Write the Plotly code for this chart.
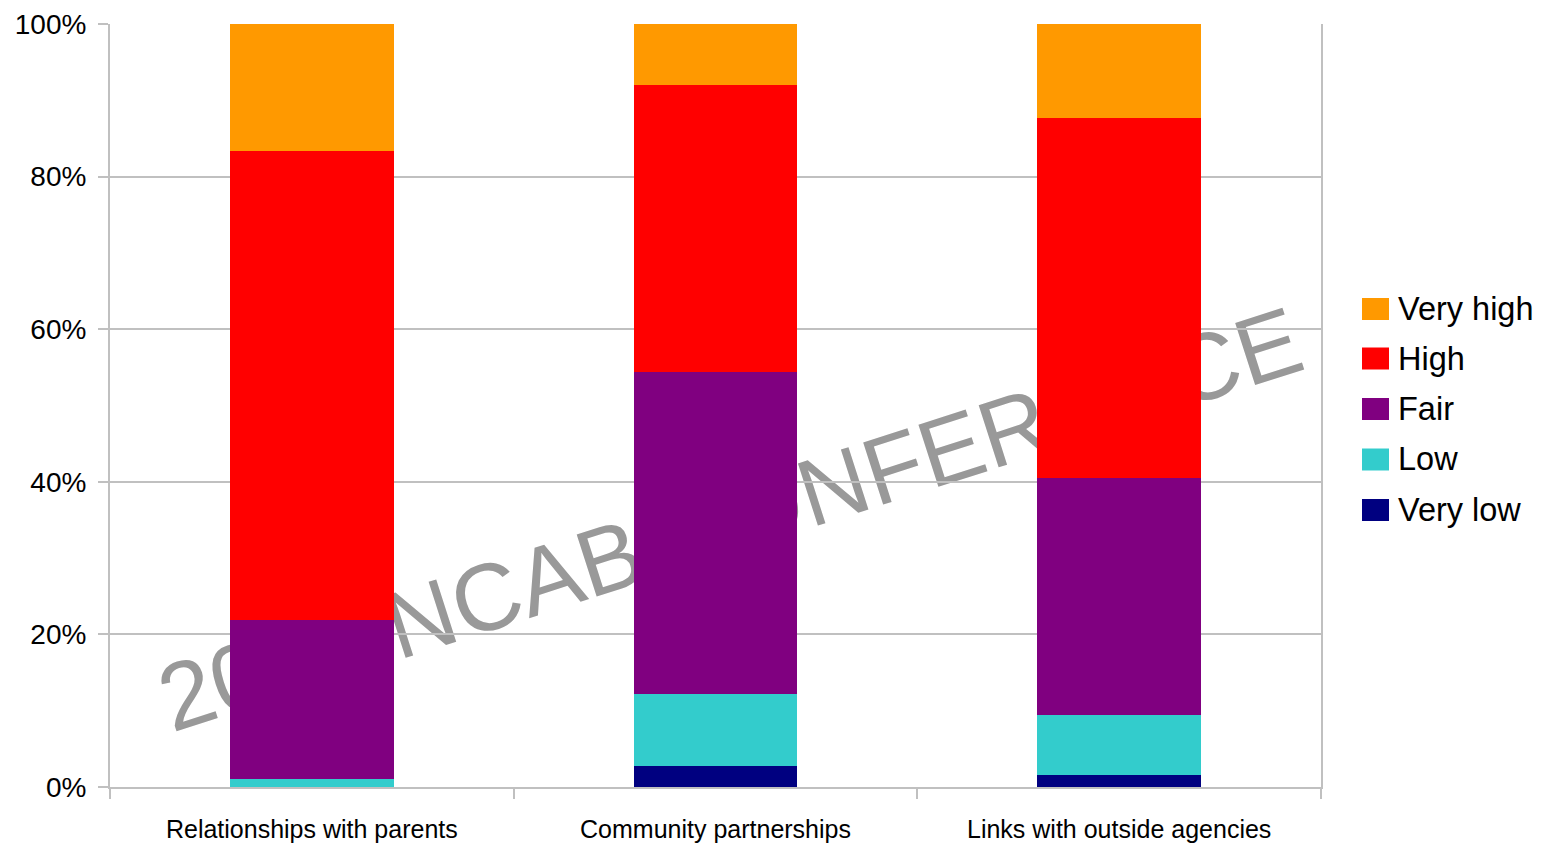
import base64
import plotly.graph_objects as go

categories = ["Relationships with parents", "Community partnerships", "Links with outside agencies"]
series_names = ["Very low", "Low", "Fair", "High", "Very high"]
very_low = [0.0, 2.75, 1.57]
low = [1.04, 9.45, 7.87]
fair = [20.8, 42.2, 31.06]
high = [61.5, 37.6, 47.18]
very_high = [16.66, 8.0, 12.32]
colors = ["#000080", "#33CCCC", "#800080", "#FF0000", "#FF9900"]
y_ticks = [0, 20, 40, 60, 80, 100]
y_tick_labels = ["0%", "20%", "40%", "60%", "80%", "100%"]
watermark = "2014 NCAB CONFERENCE"

series_values = [very_low, low, fair, high, very_high]

FONT = "Liberation Sans, Arial, sans-serif"
W, H = 1549, 843
L, R, T, B = 110, 228, 24, 56
PW, PH = W - L - R, H - T - B

fig = go.Figure()
for name, vals, col in zip(series_names, series_values, colors):
    fig.add_trace(go.Bar(
        x=categories, y=vals, name=name,
        marker=dict(color=col, line=dict(width=0)),
        showlegend=False,
    ))

# watermark behind the bars (as an SVG image in the lower layer)
cx, cy = 740 - L, 550.5 - T
svg = (
    f'<svg xmlns="http://www.w3.org/2000/svg" width="{PW}" height="{PH}" viewBox="0 0 {PW} {PH}">'
    f'<text x="{cx}" y="{cy}" text-anchor="middle" font-family="Liberation Sans, Arial, sans-serif" '
    f'font-size="95" fill="#999999" transform="rotate(-17.8 {cx} {cy})">{watermark}</text></svg>'
)
uri = "data:image/svg+xml;base64," + base64.b64encode(svg.encode("utf-8")).decode("ascii")

# manual legend (top to bottom)
legend_order = list(zip(series_names, colors))[::-1]
legend_y = [309, 358.5, 409, 459.5, 510]
shapes = []
annotations = []
for (name, col), py in zip(legend_order, legend_y):
    x0 = (1362 - L) / PW
    x1 = (1389 - L) / PW
    y0 = (H - B - (py + 11)) / PH
    y1 = (H - B - (py - 11)) / PH
    shapes.append(dict(type="rect", xref="paper", yref="paper", x0=x0, x1=x1, y0=y0, y1=y1,
                       fillcolor=col, line=dict(width=0)))
    annotations.append(dict(xref="paper", yref="paper", x=(1396 - L) / PW, y=(H - B - py) / PH,
                            xanchor="left", yanchor="middle", showarrow=False, text=name,
                            font=dict(family=FONT, size=32.5, color="#000000")))

fig.update_layout(
    width=W, height=H,
    margin=dict(l=L, r=R, t=T, b=B, pad=0),
    barmode="stack",
    bargap=0.594,
    paper_bgcolor="#FFFFFF",
    plot_bgcolor="rgba(0,0,0,0)",
    font=dict(family=FONT, color="#000000"),
    showlegend=False,
    shapes=shapes,
    annotations=annotations,
    images=[dict(source=uri, xref="paper", yref="paper", x=0, y=1, sizex=1, sizey=1,
                 xanchor="left", yanchor="top", sizing="stretch", layer="below")],
)
fig.update_xaxes(
    type="category", range=[-0.5, 2.5],
    showgrid=False, zeroline=False,
    showline=True, linecolor="#C0C0C0", linewidth=2,
    ticks="outside", tickson="boundaries", ticklen=10, tickwidth=2, tickcolor="#C0C0C0",
    tickfont=dict(family=FONT, size=25, color="#000000"),
    ticklabelstandoff=19,
    automargin=False,
)
fig.update_yaxes(
    range=[0, 100], tickmode="array", tickvals=y_ticks, ticktext=y_tick_labels,
    showgrid=True, gridcolor="#C0C0C0", gridwidth=2,
    zeroline=False,
    showline=True, mirror=True, linecolor="#C0C0C0", linewidth=2,
    ticks="outside", ticklen=10, tickwidth=2, tickcolor="#C0C0C0",
    tickfont=dict(family=FONT, size=28, color="#000000"),
    ticklabelstandoff=6,
    automargin=False,
)

fig.write_html("out.html")
